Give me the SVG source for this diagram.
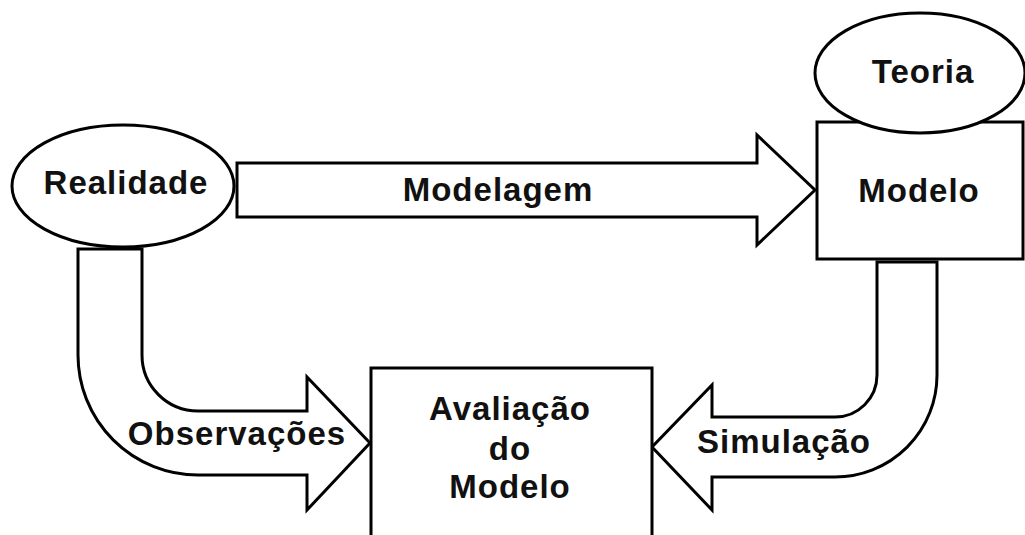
<svg xmlns="http://www.w3.org/2000/svg" width="1025" height="535" viewBox="0 0 1025 535">
<style>
.shape{fill:#fff;stroke:#000;stroke-width:3;stroke-linejoin:miter}
.lbl{font-family:"Liberation Sans",Arial,sans-serif;font-weight:bold;font-size:33px;letter-spacing:1px;fill:#111;text-anchor:middle}
</style>
<rect width="1025" height="535" fill="#fff"/>
<g id="connectors">
  <g id="modelagem">
    <path class="shape" d="M237,163 L757,163 L757,135 L815,190 L757,245 L757,217 L237,217 Z"/>
    <text class="lbl" x="498" y="201">Modelagem</text>
  </g>
  <g id="observacoes">
    <path class="shape" d="M78,249 L142,249 L142,355 A56,56 0 0 0 198,411 L307,411 L307,377 L370,443 L307,510 L307,475 L198,475 A120,120 0 0 1 78,355 Z"/>
    <text class="lbl" x="237" y="445">Observações</text>
  </g>
  <g id="simulacao">
    <path class="shape" d="M877,262 L937,262 L937,375 A102,102 0 0 1 835,477 L712,477 L712,510 L652,447 L712,385 L712,417 L835,417 A42,42 0 0 0 877,375 Z"/>
    <text class="lbl" x="784" y="453">Simulação</text>
  </g>
</g>
<g id="realidade">
  <ellipse class="shape" cx="123" cy="186" rx="111" ry="61"/>
  <text class="lbl" x="126" y="194">Realidade</text>
</g>
<g id="modelo">
  <rect class="shape" x="817" y="122" width="206" height="137"/>
  <text class="lbl" x="919" y="202">Modelo</text>
</g>
<g id="teoria">
  <ellipse class="shape" cx="920" cy="73" rx="105" ry="60"/>
  <text class="lbl" x="923" y="83">Teoria</text>
</g>
<g id="avaliacao">
  <rect class="shape" x="371" y="368" width="281" height="200"/>
  <text class="lbl" x="510" y="420">Avaliação</text>
  <text class="lbl" x="510" y="460">do</text>
  <text class="lbl" x="510" y="498">Modelo</text>
</g>
</svg>
